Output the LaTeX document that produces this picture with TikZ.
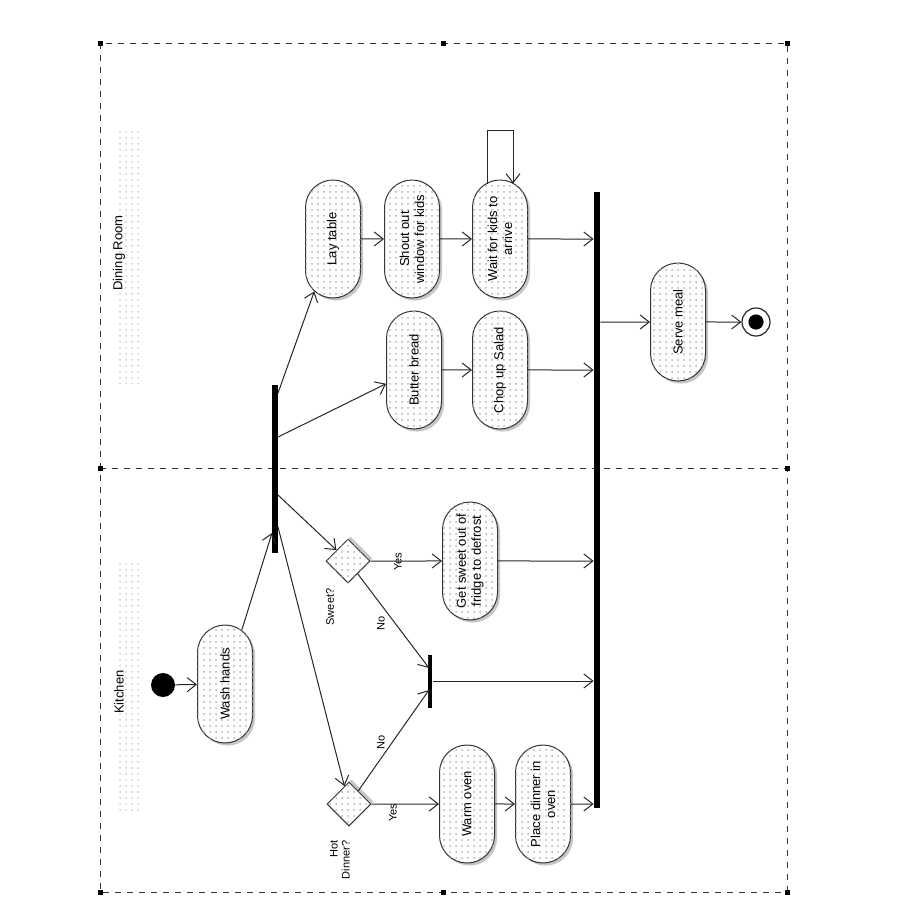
\documentclass[tikz,border=0pt]{standalone}
\usepackage{fontspec}
\setmainfont{Liberation Sans}
\usetikzlibrary{shapes.misc,shapes.geometric,arrows.meta,patterns,shadows}
\tikzset{
    nodebase/.style={ % common look of the flow nodes
        draw=black!80,
        line width=0.5pt,
        align=center,
        font=\fontsize{6.5}{7.5}\selectfont
    },
    action/.style={ % rounded activity boxes, turned on their side
        nodebase,
        shape=rounded rectangle,
        rotate=90,
        minimum width=61pt,
        minimum height=27.5pt,
        inner sep=1pt,
        fill=white,
        drop shadow={opacity=0.45,fill=black!50,shadow xshift=1.3pt,shadow yshift=-1.3pt},
        postaction={pattern=dots,pattern color=black!30}
    },
    decision/.style={ % decision diamonds
        nodebase,
        shape=diamond,
        minimum size=22pt,
        inner sep=0pt,
        fill=white,
        drop shadow={opacity=0.45,fill=black!50,shadow xshift=1.3pt,shadow yshift=1.3pt},
        postaction={pattern=dots,pattern color=black!30}
    },
    syncbar/.style={ % fork and join bars
        fill=black,
        inner sep=0pt,
        minimum width=3pt
    },
    guard/.style={ % small labels beside the flows
        rotate=90,
        inner sep=1pt,
        font=\fontsize{5.5}{6}\selectfont,
        align=right
    },
    lanelabel/.style={ % swimlane titles
        rotate=90,
        inner sep=0pt,
        font=\fontsize{6.5}{7.5}\selectfont
    },
    flow/.style={ % connectors
        draw=black!85,
        line width=0.5pt,
        -{Straight Barb[length=4.5pt,width=7pt]}
    }
}

\begin{document}
\begin{tikzpicture}[x=0.5pt,y=-0.5pt]
        \useasboundingbox (0,0) rectangle (900,900);

        % swimlanes
        \draw[dashed,black!80] (100,43) rectangle (787,892);
        \draw[dashed,black!80] (100,468) -- (787,468);
        \foreach \p in {(100,43),(443,43),(787,43),(100,468),(787,468),(100,892),(443,892),(787,892)}
                \fill \p +(-2.5,-2.5) rectangle +(2.5,2.5);
        \fill[pattern=dots,pattern color=black!20] (117,130) rectangle (140,383);
        \fill[pattern=dots,pattern color=black!20] (117,563) rectangle (140,813);
        \node [lanelabel] (diningLabel) at (119,253) {Dining Room};
        \node [lanelabel] (kitchenLabel) at (119,692) {Kitchen};

        % nodes
        \node [circle,fill=black,minimum size=12pt,inner sep=0pt] (start) at (163,685) {};
        \node [action] (wash) at (225,684) {Wash hands};
        \node [syncbar,minimum height=84pt] (fork) at (275,469) {};
        \node [action] (lay) at (333,239) {Lay table};
        \node [action] (shout) at (412,239) {Shout out\\window for kids};
        \node [action] (wait) at (500,239) {Wait for kids to\\arrive};
        \node [action] (butter) at (414,370) {Butter bread};
        \node [action] (chop) at (500,370) {Chop up Salad};
        \node [decision] (sweet) at (348,561) {};
        \node [action] (getsweet) at (470,561) {Get sweet out of\\fridge to defrost};
        \node [decision] (hot) at (349,804) {};
        \node [action] (warm) at (467,804) {Warm oven};
        \node [action] (place) at (543,804) {Place dinner in\\oven};
        \node [syncbar,minimum width=2.2pt,minimum height=26.5pt] (merge) at (430,681) {};
        \node [syncbar,minimum height=308pt] (join) at (597,500) {};
        \node [action] (serve) at (678,322) {Serve meal};
        \node [circle,draw=black!85,line width=0.6pt,minimum size=14pt,inner sep=0pt,
               path picture={\fill (path picture bounding box.center) circle (3.8pt);}] (stop) at (756,322) {};

        % labels of the decisions
        \node [guard] (sweetLabel) at (330,607) {Sweet?};
        \node [guard] (hotLabel) at (340,860) {Hot\\Dinner?};
        \node [guard] (sweetYes) at (398,562) {Yes};
        \node [guard] (sweetNo) at (381,623) {No};
        \node [guard] (hotNo) at (381,742) {No};
        \node [guard] (hotYes) at (393,813) {Yes};

        % points on the bars
        \coordinate (forkIn) at (272,533);
        \coordinate (fk1) at (278,393);
        \coordinate (fk2) at (278,437);
        \coordinate (fk3) at (278,495);
        \coordinate (fk4) at (278,527);
        \coordinate (mg1) at (429,668);
        \coordinate (mg2) at (429,690);
        \coordinate (loopA) at (487,130);
        \coordinate (loopB) at (513,130);

        % flows
        \draw[flow] (start) -- (wash);
        \draw[flow] (wash) -- (forkIn);
        \draw[flow] (fk1) -- (lay);
        \draw[flow] (fk2) -- (butter);
        \draw[flow] (fk3) -- (sweet);
        \draw[flow] (fk4) -- (hot);
        \draw[flow] (lay) -- (shout);
        \draw[flow] (shout) -- (wait);
        \draw[flow] (wait) -- (wait -| join.west);
        \draw[flow] ([xshift=-6.5pt,yshift=-2pt]wait.east) -- (loopA) -- (loopB) -- ([xshift=6.5pt,yshift=-2pt]wait.east);
        \draw[flow] (butter) -- (chop);
        \draw[flow] (chop) -- (chop -| join.west);
        \draw[flow] (sweet) -- (getsweet);
        \draw[flow] (getsweet) -- (getsweet -| join.west);
        \draw[flow] (sweet) -- (mg1);
        \draw[flow] (hot) -- (mg2);
        \draw[flow] (merge) -- (merge -| join.west);
        \draw[flow] (hot) -- (warm);
        \draw[flow] (warm) -- (place);
        \draw[flow] (place) -- (place -| join.west);
        \draw[flow] (join.east |- serve) -- (serve);
        \draw[flow] (serve) -- (stop);

\end{tikzpicture}
\end{document}
